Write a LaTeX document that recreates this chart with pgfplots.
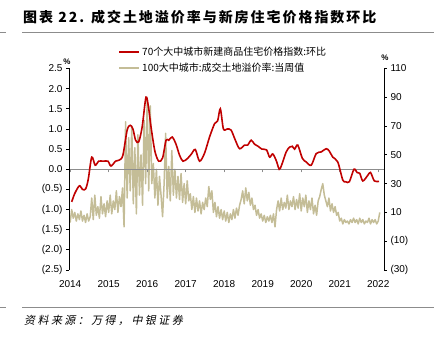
\documentclass[border=0pt]{standalone}
\usepackage{pgfplots}
\pgfplotsset{compat=1.18}
\usepackage{fontspec}
\setmainfont{Liberation Sans}
\newfontfamily\cjk{Noto Sans CJK SC}
\newfontfamily\cjkt{Noto Sans CJK SC}[LetterSpace=14]
\newfontfamily\cjks{Noto Sans CJK SC}[LetterSpace=22,FakeSlant=0.2]
\definecolor{myred}{RGB}{192,0,0}
\definecolor{mytan}{RGB}{196,189,151}
\definecolor{rule}{RGB}{140,140,140}

\pgfplotstableread{
x y
2014.04 -0.81
2014.12 -0.6
2014.24 -0.41
2014.32 -0.5
2014.40 -0.49
2014.47 -0.25
2014.56 0.3
2014.65 0.1
2014.74 0.2
2014.86 0.2
2014.98 0.2
2015.06 0.08
2015.18 0.2
2015.28 0.23
2015.37 0.35
2015.48 0.97
2015.56 1.09
2015.63 1.0
2015.70 0.72
2015.78 0.68
2015.87 1.05
2015.97 1.79
2016.04 1.5
2016.10 1.05
2016.20 0.45
2016.30 0.2
2016.40 0.28
2016.49 0.72
2016.56 0.72
2016.65 0.8
2016.75 0.62
2016.84 0.35
2016.93 0.2
2017.05 0.27
2017.15 0.38
2017.25 0.49
2017.36 0.2
2017.49 0.4
2017.62 0.8
2017.75 1.13
2017.83 1.2
2017.90 1.5
2017.98 1.0
2018.08 1.0
2018.18 0.97
2018.29 0.72
2018.40 0.51
2018.53 0.6
2018.61 0.6
2018.70 0.72
2018.79 0.62
2018.88 0.57
2018.98 0.5
2019.10 0.48
2019.18 0.3
2019.26 0.38
2019.35 0.22
2019.43 0.0
2019.49 0.1
2019.61 0.43
2019.70 0.55
2019.77 0.57
2019.83 0.5
2019.91 0.6
2020.03 0.27
2020.13 0.18
2020.26 0.1
2020.39 0.39
2020.52 0.43
2020.65 0.51
2020.73 0.45
2020.82 0.3
2020.95 0.18
2021.08 -0.27
2021.16 -0.31
2021.25 -0.31
2021.37 0.0
2021.45 -0.08
2021.52 -0.1
2021.60 -0.29
2021.73 -0.15
2021.80 -0.08
2021.90 -0.29
2022.02 -0.3
}\redtable

\pgfplotstableread{
x y
2014.00 3
2014.04 12
2014.08 6
2014.12 10
2014.16 4
2014.20 9
2014.24 5
2014.28 11
2014.32 4
2014.36 8
2014.40 3
2014.44 9
2014.48 4
2014.52 7
2014.56 20
2014.60 5
2014.64 22
2014.68 8
2014.72 14
2014.76 6
2014.80 21
2014.84 9
2014.88 16
2014.92 7
2014.96 18
2015.00 10
2015.04 22
2015.08 9
2015.12 18
2015.16 12
2015.20 25
2015.24 10
2015.28 21
2015.32 14
2015.36 27
2015.40 0
2015.44 73
2015.48 20
2015.52 62
2015.56 25
2015.60 70
2015.64 16
2015.68 55
2015.72 9
2015.76 64
2015.80 22
2015.84 50
2015.88 15
2015.92 74
2015.96 30
2016.00 88
2016.04 25
2016.08 84
2016.12 30
2016.16 44
2016.20 20
2016.24 40
2016.28 15
2016.32 35
2016.36 22
2016.40 7
2016.44 30
2016.48 65
2016.52 20
2016.56 42
2016.60 18
2016.64 53
2016.68 22
2016.72 40
2016.76 20
2016.80 35
2016.84 19
2016.88 37
2016.92 17
2016.96 30
2017.00 16
2017.04 32
2017.08 18
2017.12 23
2017.16 12
2017.20 21
2017.24 10
2017.28 20
2017.32 11
2017.36 18
2017.40 9
2017.44 17
2017.48 12
2017.52 20
2017.56 14
2017.60 28
2017.64 19
2017.68 25
2017.72 10
2017.76 17
2017.80 7
2017.84 14
2017.88 6
2017.92 12
2017.96 5
2018.00 11
2018.04 4
2018.08 10
2018.12 3
2018.16 9
2018.20 5
2018.24 12
2018.28 6
2018.32 13
2018.36 8
2018.40 15
2018.44 19
2018.48 25
2018.52 16
2018.56 27
2018.60 18
2018.64 24
2018.68 15
2018.72 20
2018.76 12
2018.80 15
2018.84 8
2018.88 12
2018.92 6
2018.96 9
2019.00 4
2019.04 8
2019.08 3
2019.12 7
2019.16 4
2019.20 8
2019.24 3
2019.28 9
2019.32 0
2019.36 12
2019.40 18
2019.44 11
2019.48 20
2019.52 12
2019.56 17
2019.60 13
2019.64 22
2019.68 12
2019.72 18
2019.76 14
2019.80 21
2019.84 12
2019.88 19
2019.92 13
2019.96 23
2020.00 11
2020.04 20
2020.08 14
2020.12 22
2020.16 10
2020.20 18
2020.24 12
2020.28 20
2020.32 9
2020.36 15
2020.40 8
2020.44 18
2020.48 21
2020.52 26
2020.56 30
2020.60 22
2020.64 18
2020.68 14
2020.72 20
2020.76 11
2020.80 16
2020.84 10
2020.88 14
2020.92 8
2020.96 10
2021.00 4
2021.04 6
2021.08 2
2021.12 5
2021.16 3
2021.20 4
2021.24 2
2021.28 5
2021.32 3
2021.36 6
2021.40 3
2021.44 5
2021.48 2
2021.52 6
2021.56 3
2021.60 5
2021.64 2
2021.68 4
2021.72 3
2021.76 6
2021.80 2
2021.84 5
2021.88 3
2021.92 5
2021.96 2
2022.00 4
2022.04 10
}\tantable

\begin{document}
\begin{tikzpicture}
\useasboundingbox (0pt,0pt) rectangle (434pt,338pt);
% title and rules
\node[anchor=west,inner sep=0] at (23pt,321pt) {\fontsize{14}{16}\selectfont\cjkt\bfseries 图表 22. 成交土地溢价率与新房住宅价格指数环比};
\draw[rule,line width=1.2pt] (22pt,305.7pt) -- (434pt,305.7pt);
\draw[rule,line width=1.2pt] (0pt,305.7pt) -- (6pt,305.7pt);
\draw[rule,line width=1.2pt] (22pt,30.7pt) -- (434pt,30.7pt);
\draw[rule,line width=1.2pt] (0pt,30.7pt) -- (6pt,30.7pt);
\node[anchor=west,inner sep=0] at (24pt,18pt) {\fontsize{11}{12}\selectfont\cjks 资料来源：万得，中银证券};

% right axis (tan)
\begin{axis}[at={(69pt,68pt)},anchor=south west,scale only axis,
  width=315pt,height=201.5pt,
  xmin=2013.97,xmax=2022.15,ymin=-30,ymax=110,
  axis x line=none, axis y line*=right,
  y axis line style={-,black,line width=0.8pt},
  ytick={-30,-10,10,30,50,70,90,110},
  yticklabels={(30),(10),10,30,50,70,90,110},
  tick align=outside, major tick length=3pt,
  ytick style={black,line width=0.8pt},
  yticklabel style={font=\fontsize{10}{12}\selectfont,anchor=west},
  clip=false]
\addplot[mytan,line width=1.5pt,line join=round] table[x=x,y=y]{\tantable};
\end{axis}

% left axis (red)
\begin{axis}[at={(69pt,68pt)},anchor=south west,scale only axis,
  width=315pt,height=201.5pt,
  xmin=2013.97,xmax=2022.15,ymin=-2.5,ymax=2.5,
  axis y line=left, axis x line=middle,
  hide obscured x ticks=false, hide obscured y ticks=false,
  x axis line style={-,rule,line width=0.8pt},
  y axis line style={-,black,line width=0.8pt},
  ytick={-2.5,-2,-1.5,-1,-0.5,0,0.5,1,1.5,2,2.5},
  yticklabels={(2.5),(2.0),(1.5),(1.0),(0.5),0.0,0.5,1.0,1.5,2.0,2.5},
  xtick={2014,2015,2016,2017,2018,2019,2020,2021,2022},
  xticklabels={2014,2015,2016,2017,2018,2019,2020,2021,2022},
  tick align=outside, major tick length=3pt,
  ytick style={black,line width=0.8pt},
  xtick style={rule,line width=0.8pt},
  yticklabel style={font=\fontsize{10}{12}\selectfont,anchor=east},
  xticklabel style={font=\fontsize{10}{12}\selectfont,anchor=center,yshift=-112pt},
  legend style={at={(axis description cs:0.1556,1.118)},anchor=north west,
    draw=none,fill=none,font=\fontsize{10}{11}\selectfont\cjk,
    row sep=2.5pt, inner sep=0pt,
    legend cell align=left},
  legend image code/.code={\draw[#1] (0pt,0pt) -- (20pt,0pt);},
  clip=false]
\addplot[myred,line width=1.6pt,smooth,tension=0.5] table[x=x,y=y]{\redtable};
\addlegendentry{70个大中城市新建商品住宅价格指数:环比}
\addlegendimage{mytan,line width=2pt}
\addlegendentry{100大中城市:成交土地溢价率:当周值}
\end{axis}
\node[font=\fontsize{8}{9}\selectfont\bfseries] at (67pt,276.3pt) {\%};
\node[font=\fontsize{8}{9}\selectfont\bfseries] at (385pt,280.7pt) {\%};
\end{tikzpicture}
\end{document}
